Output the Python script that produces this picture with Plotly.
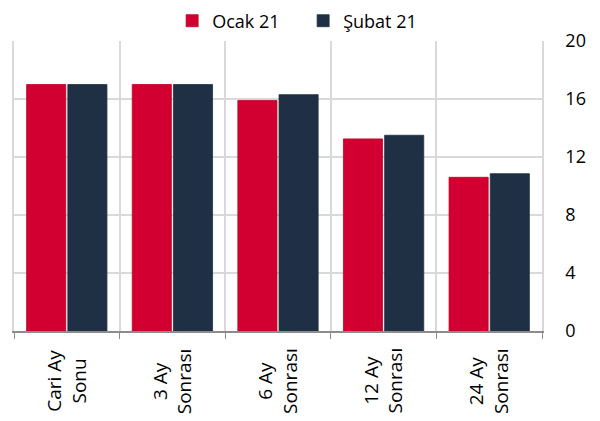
import plotly.graph_objects as go

categories = ["Cari Ay<br>Sonu", "3 Ay<br>Sonrası", "6 Ay<br>Sonrası", "12 Ay<br>Sonrası", "24 Ay<br>Sonrası"]
ocak_21 = [17.0, 17.0, 15.9, 13.25, 10.6]
subat_21 = [17.0, 17.0, 16.3, 13.5, 10.85]
y_ticks = [0, 4, 8, 12, 16, 20]

GRID = "#D9D9D9"
fig = go.Figure()
fig.add_trace(go.Bar(name="Ocak 21", x=categories, y=ocak_21,
                     marker=dict(color="#D20030", line=dict(color="#C00020", width=0.8))))
fig.add_trace(go.Bar(name="Şubat 21", x=categories, y=subat_21,
                     marker=dict(color="#1F3045", line=dict(color="#1F3045", width=0.8))))

for c in categories:
    fig.add_annotation(x=c, xref="x", y=-0.172, yref="paper", text=c, textangle=-90,
                       showarrow=False, xanchor="center", yanchor="middle",
                       font=dict(size=19, color="#000"))

fig.update_layout(
    width=592, height=413,
    margin=dict(l=6, r=58, t=33, b=90, autoexpand=False),
    plot_bgcolor="white", paper_bgcolor="white",
    font=dict(family="Open Sans", size=18, color="#000"),
    barmode="group", bargap=0.22, bargroupgap=0.05,
    showlegend=True,
    legend=dict(orientation="h", x=0.2995, xanchor="left", y=1.069, yanchor="middle",
                font=dict(size=18), traceorder="normal", itemwidth=30,
                entrywidth=86, bgcolor="rgba(0,0,0,0)"),
    xaxis=dict(type="category", tickson="boundaries", showgrid=True, gridcolor=GRID,
               gridwidth=1.5, showline=True, linecolor="#8C8C8C", linewidth=1.5,
               ticks="outside", ticklen=6, tickcolor="#8C8C8C", showticklabels=False,
               automargin=False),
    yaxis=dict(side="right", range=[0, 20], tickvals=y_ticks, showgrid=True,
               gridcolor=GRID, gridwidth=1.5, zeroline=False, showline=True,
               mirror=True, linecolor=GRID, linewidth=1.5,
               ticks="", ticklabelstandoff=18, tickfont=dict(size=18), automargin=False),
)
fig.write_html("out.html")
